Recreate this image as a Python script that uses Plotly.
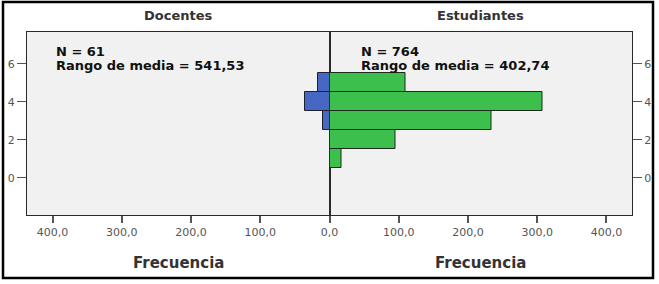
import plotly.graph_objects as go

# Data
bins = [1, 2, 3, 4, 5]
docentes_freq = [0, 0, 9, 36, 16]
estudiantes_freq = [17, 96, 234, 307, 110]
x_ticks_left = [100, 200, 300, 400]
x_ticks_right = [0, 100, 200, 300, 400]
y_ticks = [0, 2, 4, 6]
panel_titles = ["Docentes", "Estudiantes"]
stats_n = ["N = 61", "N = 764"]
stats_rank = ["Rango de media = 541,53", "Rango de media = 402,74"]

W, H = 659, 284
L, R, T, B = 27, 27, 32, 69
PW = W - L - R
PH = H - T - B

def px(x):
    return (x - L) / PW

def py(y):
    return (H - B - y) / PH

def fmt(v):
    return f"{v:.1f}".replace(".", ",")

fig = go.Figure()
fig.add_trace(go.Bar(
    y=bins, x=docentes_freq, orientation="h", xaxis="x", yaxis="y",
    width=1, marker=dict(color="#4668c2", line=dict(color="#1c2030", width=1)),
    showlegend=False, hoverinfo="x+y"))
fig.add_trace(go.Bar(
    y=bins, x=estudiantes_freq, orientation="h", xaxis="x2", yaxis="y2",
    width=1, marker=dict(color="#3dbf4e", line=dict(color="#1c2a1c", width=1)),
    showlegend=False, hoverinfo="x+y"))

tickfont = dict(family="DejaVu Sans", size=11, color="#555555")
axline = "#2a2a2a"
common_x = dict(showgrid=False, zeroline=False, showline=True, mirror=True,
                linecolor=axline, linewidth=1.2, ticks="outside", ticklen=7,
                tickcolor="#555555", tickwidth=1.5, tickfont=tickfont,
                automargin=False)
common_y = dict(range=[-1.95, 7.68], showgrid=False, zeroline=False,
                showline=True, mirror=True, linecolor=axline, linewidth=1.2,
                ticks="outside", ticklen=9, tickcolor="#555555", tickwidth=1,
                tickvals=y_ticks, ticktext=[str(v) for v in y_ticks],
                tickfont=tickfont, automargin=False)

fig.update_layout(
    width=W, height=H,
    margin=dict(l=L, r=R, t=T, b=B),
    paper_bgcolor="white", plot_bgcolor="#f1f1f1",
    bargap=0,
    xaxis=dict(domain=[0, 0.5], range=[437, 0], anchor="y",
               tickvals=x_ticks_left, ticktext=[fmt(v) for v in x_ticks_left],
               **common_x),
    xaxis2=dict(domain=[0.5, 1], range=[0, 437], anchor="y2",
                tickvals=x_ticks_right, ticktext=[fmt(v) for v in x_ticks_right],
                **common_x),
    yaxis=dict(domain=[0, 1], anchor="x", side="left", **common_y),
    yaxis2=dict(domain=[0, 1], anchor="x2", side="right", **common_y),
)

ann = []
title_font = dict(family="DejaVu Sans", size=13, color="#333333")
for i, t in enumerate(panel_titles):
    cx = 0.25 if i == 0 else 0.75
    ann.append(dict(text=f"<b>{t}</b>", x=cx, y=py(16), xref="paper", yref="paper",
                    showarrow=False, xanchor="center", yanchor="middle", font=title_font))
    ann.append(dict(text="<b>Frecuencia</b>", x=cx, y=py(263), xref="paper", yref="paper",
                    showarrow=False, xanchor="center", yanchor="middle",
                    font=dict(family="DejaVu Sans", size=15, color="#333333")))
stat_font = dict(family="DejaVu Sans", size=13, color="#111111")
for i in range(2):
    sx = px(54) if i == 0 else px(359)
    ann.append(dict(text=f"<b>{stats_n[i]}</b>", x=sx, y=py(51), xref="paper", yref="paper",
                    showarrow=False, xanchor="left", yanchor="middle", font=stat_font))
    ann.append(dict(text=f"<b>{stats_rank[i]}</b>", x=sx, y=py(65.5), xref="paper", yref="paper",
                    showarrow=False, xanchor="left", yanchor="middle", font=stat_font))
fig.update_layout(annotations=ann)

# outer frame
fig.add_shape(type="rect", xref="paper", yref="paper",
              x0=px(3), x1=px(653), y0=py(278), y1=py(2),
              line=dict(color="black", width=2.5), fillcolor="rgba(0,0,0,0)")

fig.write_html("out.html", config={"displayModeBar": False},
               post_script="document.body.style.margin='0';document.body.style.overflow='hidden';")
